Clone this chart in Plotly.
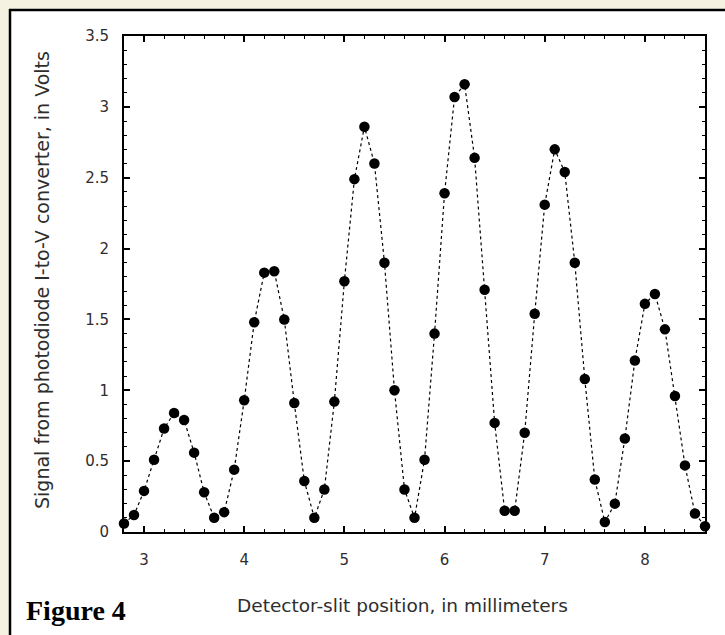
import plotly.graph_objects as go

# ---- data ----
positions_mm = [2.8, 2.9, 3.0, 3.1, 3.2, 3.3, 3.4, 3.5, 3.6, 3.7,
                3.8, 3.9, 4.0, 4.1, 4.2, 4.3, 4.4, 4.5, 4.6, 4.7,
                4.8, 4.9, 5.0, 5.1, 5.2, 5.3, 5.4, 5.5, 5.6, 5.7,
                5.8, 5.9, 6.0, 6.1, 6.2, 6.3, 6.4, 6.5, 6.6, 6.7,
                6.8, 6.9, 7.0, 7.1, 7.2, 7.3, 7.4, 7.5, 7.6, 7.7,
                7.8, 7.9, 8.0, 8.1, 8.2, 8.3, 8.4, 8.5, 8.6]
signal_volts = [0.06, 0.12, 0.29, 0.51, 0.73, 0.84, 0.79, 0.56, 0.28, 0.10,
                0.14, 0.44, 0.93, 1.48, 1.83, 1.84, 1.50, 0.91, 0.36, 0.10,
                0.30, 0.92, 1.77, 2.49, 2.86, 2.60, 1.90, 1.00, 0.30, 0.10,
                0.51, 1.40, 2.39, 3.07, 3.16, 2.64, 1.71, 0.77, 0.15, 0.15,
                0.70, 1.54, 2.31, 2.70, 2.54, 1.90, 1.08, 0.37, 0.07, 0.20,
                0.66, 1.21, 1.61, 1.68, 1.43, 0.96, 0.47, 0.13, 0.04]
x_tick_values = [3, 4, 5, 6, 7, 8]
x_tick_labels = ["3", "4", "5", "6", "7", "8"]
y_tick_values = [0, 0.5, 1, 1.5, 2, 2.5, 3, 3.5]
y_tick_labels = ["0", "0.5", "1", "1.5", "2", "2.5", "3", "3.5"]

x_title = "Detector-slit position, in millimeters"
y_title = "Signal from photodiode I-to-V converter, in Volts"
fig_label = "Figure 4"

# ---- layout geometry (pixels) ----
W, H = 725, 635
L, R, T, B = 124, 705, 36, 532


def px_x(p):
    return (p - L) / (R - L)


def px_y(p):
    return (B - p) / (B - T)


CREAM = "#f6f2e2"
TEXT = "#2e2e2e"

fig = go.Figure()
fig.add_trace(go.Scatter(
    x=positions_mm, y=signal_volts,
    mode="lines+markers",
    line=dict(color="black", width=1.2, dash="3px,3px"),
    marker=dict(color="black", size=10.5, symbol="circle"),
    cliponaxis=False,
    showlegend=False,
))

axis_common = dict(
    showgrid=False, zeroline=False,
    showline=True, linecolor="black", linewidth=2,
    mirror="allticks",
    ticks="inside", ticklen=6, tickwidth=1.5, tickcolor="black",
    tickfont=dict(family="DejaVu Sans", size=15, color=TEXT),
)

fig.update_xaxes(
    range=[2.8, 8.6],
    tickmode="array", tickvals=x_tick_values, ticktext=x_tick_labels,
    minor=dict(dtick=0.2, ticks="inside", ticklen=3, tickwidth=1, tickcolor="black"),
    ticklabelstandoff=13,
    **axis_common,
)
fig.update_yaxes(
    range=[0, 3.5],
    tickmode="array", tickvals=y_tick_values, ticktext=y_tick_labels,
    minor=dict(dtick=0.1, ticks="inside", ticklen=3, tickwidth=1, tickcolor="black"),
    ticklabelstandoff=10,
    **axis_common,
)

shapes = [
    # white panel
    dict(type="rect", xref="paper", yref="paper",
         x0=px_x(10), x1=px_x(W + 5), y0=px_y(10), y1=px_y(H + 5),
         fillcolor="white", line=dict(width=0), layer="below"),
    # black left border
    dict(type="line", xref="paper", yref="paper",
         x0=px_x(10), x1=px_x(10), y0=px_y(9), y1=px_y(H + 5),
         line=dict(color="black", width=2.5), layer="below"),
    # black top border
    dict(type="line", xref="paper", yref="paper",
         x0=px_x(9), x1=px_x(W + 5), y0=px_y(10), y1=px_y(10),
         line=dict(color="black", width=2.5), layer="below"),
]

annotations = [
    dict(text=y_title, xref="paper", yref="paper",
         x=px_x(42), y=px_y(280), xanchor="center", yanchor="middle",
         textangle=-90, showarrow=False,
         font=dict(family="DejaVu Sans", size=19, color=TEXT)),
    dict(text=x_title, xref="paper", yref="paper",
         x=px_x(402), y=px_y(605), xanchor="center", yanchor="middle",
         showarrow=False,
         font=dict(family="DejaVu Sans", size=18.5, color=TEXT)),
    dict(text="<b>" + fig_label + "</b>", xref="paper", yref="paper",
         x=px_x(24), y=px_y(610), xanchor="left", yanchor="middle",
         showarrow=False,
         font=dict(family="Liberation Serif", size=28, color="black")),
]

fig.update_layout(
    width=W, height=H,
    margin=dict(l=L, r=W - R, t=T, b=H - B, autoexpand=False),
    paper_bgcolor=CREAM, plot_bgcolor="white",
    shapes=shapes, annotations=annotations,
)

fig.write_html(
    "out.html",
    config={"displayModeBar": False},
    post_script="document.body.style.margin='0';document.body.style.background='%s';" % CREAM,
)
